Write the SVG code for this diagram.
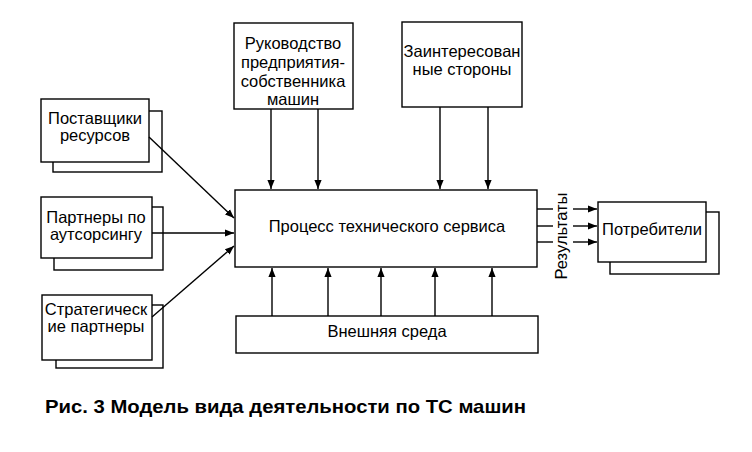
<svg xmlns="http://www.w3.org/2000/svg" width="752" height="452" viewBox="0 0 752 452">
<defs>
<marker id="ah" viewBox="0 0 10 10" refX="10" refY="5" markerWidth="9" markerHeight="9" markerUnits="userSpaceOnUse" orient="auto">
<path d="M0,1 L10,5 L0,9 z" fill="#000"/>
</marker>
<style>
.b{fill:#fff;stroke:#000;stroke-width:1.4}
.t{font-family:"Liberation Sans",Arial,sans-serif;font-size:16.5px;fill:#000;text-anchor:middle}
.c line{stroke:#000;stroke-width:1.4}
.a{marker-end:url(#ah)}
</style>
</defs>
<rect width="752" height="452" fill="#fff"/>
<g id="suppliers">
<rect class="b" x="53" y="111" width="109" height="61"/>
<rect class="b" x="41" y="99" width="108" height="63"/>
<text class="t" x="95" y="124">Поставщики</text>
<text class="t" x="95" y="141">ресурсов</text>
</g>
<g id="outsourcing">
<rect class="b" x="54" y="207" width="109" height="63"/>
<rect class="b" x="41" y="197" width="111" height="61"/>
<text class="t" x="96" y="223">Партнеры по</text>
<text class="t" x="96" y="240">аутсорсингу</text>
</g>
<g id="strategic">
<rect class="b" x="56" y="305" width="107" height="63"/>
<rect class="b" x="42" y="295" width="110" height="65"/>
<text class="t" x="96" y="315">Стратегическ</text>
<text class="t" x="96" y="332">ие партнеры</text>
</g>
<g id="management">
<rect class="b" x="234" y="23" width="119" height="86"/>
<text class="t" x="293" y="49">Руководство</text>
<text class="t" x="293" y="68">предприятия-</text>
<text class="t" x="293" y="87">собственника</text>
<text class="t" x="293" y="105">машин</text>
</g>
<g id="stakeholders">
<rect class="b" x="402" y="22" width="120" height="85"/>
<text class="t" x="462" y="57">Заинтересован</text>
<text class="t" x="462" y="75">ные стороны</text>
</g>
<g id="process">
<rect class="b" x="235" y="190" width="302" height="77"/>
<text class="t" x="387" y="232">Процесс технического сервиса</text>
</g>
<g id="environment">
<rect class="b" x="236" y="316" width="302" height="37"/>
<text class="t" x="387" y="337">Внешняя среда</text>
</g>
<g id="consumers">
<rect class="b" x="610" y="212" width="109" height="62"/>
<rect class="b" x="598" y="202" width="108" height="60"/>
<text class="t" x="652" y="235">Потребители</text>
</g>
<g id="connectors" class="c">
<line class="a" x1="149" y1="137" x2="234" y2="218"/>
<line class="a" x1="152" y1="233" x2="234" y2="233"/>
<line class="a" x1="152" y1="317" x2="234" y2="246"/>
<line class="a" x1="271" y1="109" x2="271" y2="189"/>
<line class="a" x1="318" y1="109" x2="318" y2="189"/>
<line class="a" x1="440" y1="107" x2="440" y2="189"/>
<line class="a" x1="488" y1="107" x2="488" y2="189"/>
<line class="a" x1="272" y1="316" x2="272" y2="268"/>
<line class="a" x1="328" y1="316" x2="328" y2="268"/>
<line class="a" x1="381" y1="316" x2="381" y2="268"/>
<line class="a" x1="435" y1="316" x2="435" y2="268"/>
<line class="a" x1="492" y1="316" x2="492" y2="268"/>
<line x1="537" y1="209" x2="553" y2="209"/>
<line x1="537" y1="226" x2="553" y2="226"/>
<line x1="537" y1="242" x2="553" y2="242"/>
<line class="a" x1="573" y1="209" x2="597" y2="209"/>
<line class="a" x1="573" y1="226" x2="597" y2="226"/>
<line class="a" x1="573" y1="242" x2="597" y2="242"/>
</g>
<text class="t" transform="translate(567,236) rotate(-90)" textLength="87" lengthAdjust="spacingAndGlyphs">Результаты</text>
<text x="45" y="413" textLength="481" lengthAdjust="spacingAndGlyphs" style="font-family:'Liberation Sans',Arial,sans-serif;font-size:19px;font-weight:bold">Рис. 3 Модель вида деятельности по ТС машин</text>
</svg>
